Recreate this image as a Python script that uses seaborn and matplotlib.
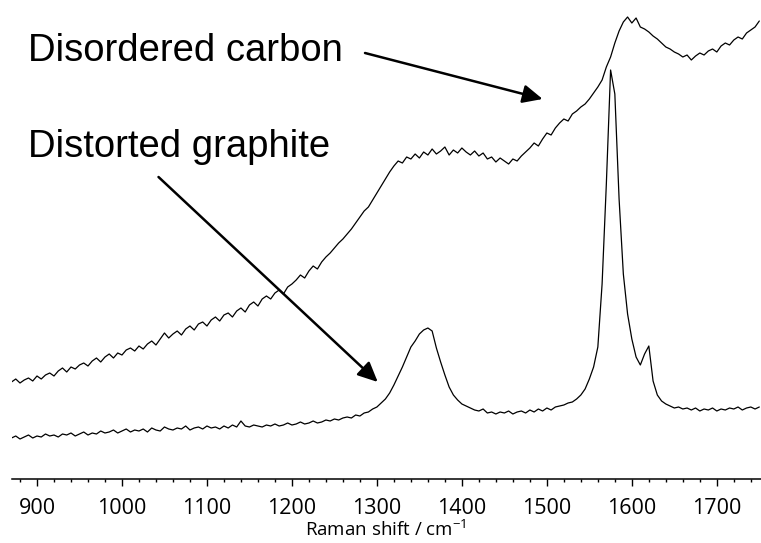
import matplotlib.pyplot as plt
import numpy as np
import pandas as pd
import seaborn as sns

sns.set_style("ticks")
plt.rcParams["font.family"] = ["Open Sans", "DejaVu Sans"]
plt.rcParams["mathtext.fontset"] = "custom"
plt.rcParams["mathtext.rm"] = "Open Sans"
plt.rcParams["text.color"] = "black"
plt.rcParams["axes.labelcolor"] = "black"
plt.rcParams["xtick.color"] = "black"
plt.rcParams["axes.edgecolor"] = "black"

# Raman shift grid (cm-1), one point every 5 cm-1
shift = np.arange(870, 1751, 5)

# intensities (arbitrary units)
disordered_carbon = [
    97, 100, 96, 99, 101, 98, 103, 100, 104, 106,
    103, 108, 111, 107, 112, 110, 114, 116, 113, 118,
    121, 117, 122, 125, 121, 126, 124, 129, 131, 128,
    133, 130, 135, 138, 134, 140, 146, 141, 145, 148,
    144, 150, 153, 149, 155, 157, 153, 159, 162, 158,
    164, 166, 162, 168, 171, 167, 174, 177, 173, 180,
    183, 180, 186, 189, 185, 192, 195, 199, 204, 201,
    208, 213, 210, 217, 222, 226, 231, 236, 240, 245,
    250, 256, 262, 268, 272, 279, 286, 293, 300, 307,
    313, 318, 316, 322, 320, 325, 321, 327, 324, 330,
    325, 328, 332, 324, 329, 326, 331, 327, 324, 328,
    323, 326, 320, 322, 317, 321, 318, 315, 320, 318,
    323, 327, 331, 336, 333, 340, 346, 344, 351, 356,
    360, 358, 365, 368, 372, 375, 380, 386, 392, 399,
    412, 422, 436, 448, 457, 462, 456, 461, 452, 450,
    447, 443, 440, 436, 432, 430, 427, 425, 422, 424,
    419, 423, 426, 424, 428, 430, 427, 433, 436, 434,
    439, 442, 440, 446, 449, 452, 458,
]

distorted_graphite = [
    41, 43, 40, 42, 44, 41, 43, 42, 45, 43,
    44, 42, 45, 44, 46, 43, 45, 47, 44, 46,
    45, 48, 46, 47, 49, 46, 48, 50, 47, 49,
    48, 50, 47, 51, 49, 48, 52, 50, 49, 51,
    50, 53, 49, 51, 52, 50, 53, 51, 52, 50,
    53, 51, 54, 52, 58, 53, 52, 54, 53, 52,
    54, 53, 55, 53, 54, 56, 54, 55, 57, 55,
    56, 58, 56, 57, 59, 58, 60, 59, 61, 62,
    61, 64, 63, 66, 67, 70, 72, 76, 80, 86,
    94, 103, 112, 122, 132, 138, 145, 149, 151, 148,
    131, 117, 104, 92, 84, 79, 75, 73, 71, 69,
    68, 70, 66, 67, 65, 67, 66, 68, 65, 67,
    68, 66, 69, 67, 70, 68, 71, 69, 72, 73,
    74, 76, 77, 80, 84, 90, 100, 112, 132, 195,
    295, 409, 385, 280, 205, 165, 140, 122, 114, 125,
    133, 98, 84, 78, 75, 73, 71, 72, 70, 71,
    69, 71, 68, 70, 69, 71, 68, 70, 69, 71,
    70, 72, 69, 71, 72, 70, 72,
]

df = pd.DataFrame({"shift": shift,
                   "Disordered carbon": disordered_carbon,
                   "Distorted graphite": distorted_graphite})

fig = plt.figure(figsize=(7.61, 5.43), dpi=100)
ax = fig.add_axes([11.5 / 761, 64 / 543, 749.5 / 761, 479 / 543])

sns.lineplot(data=df, x="shift", y="Disordered carbon", ax=ax, color="black", linewidth=0.9)
sns.lineplot(data=df, x="shift", y="Distorted graphite", ax=ax, color="black", linewidth=0.9)

ax.set_xlim(870, 1752)
ax.set_ylim(0, 479)
ax.set_xticks(np.arange(900, 1701, 100))
ax.set_xticks(np.arange(880, 1751, 20), minor=True)
ax.tick_params(axis="x", which="major", direction="out", length=5, width=1.0, labelsize=15.5, pad=8.5)
ax.tick_params(axis="x", which="minor", direction="out", length=2.5, width=1.0)
ax.set_yticks([])
ax.set_ylabel("")
ax.set_xlabel(r"Raman shift / cm$^{\mathregular{-1}}$", fontsize=13.5, labelpad=0.5)
sns.despine(ax=ax, left=True)
ax.spines["bottom"].set_linewidth(1.1)

# annotations
label_font = dict(family=["Liberation Sans", "DejaVu Sans"], fontsize=27.5, va="baseline", color="black")
ax.text(889, 418, "Disordered carbon", **label_font)
ax.text(889, 322, "Distorted graphite", **label_font)
arrow = dict(arrowstyle="-|>,head_length=0.6,head_width=0.28", mutation_scale=20,
             lw=1.8, color="black", shrinkA=0, shrinkB=0)
ax.annotate("", xy=(1495, 380), xytext=(1286, 426), arrowprops=arrow)
ax.annotate("", xy=(1301, 97), xytext=(1043, 302), arrowprops=arrow)

plt.savefig("out.png", dpi=100)
